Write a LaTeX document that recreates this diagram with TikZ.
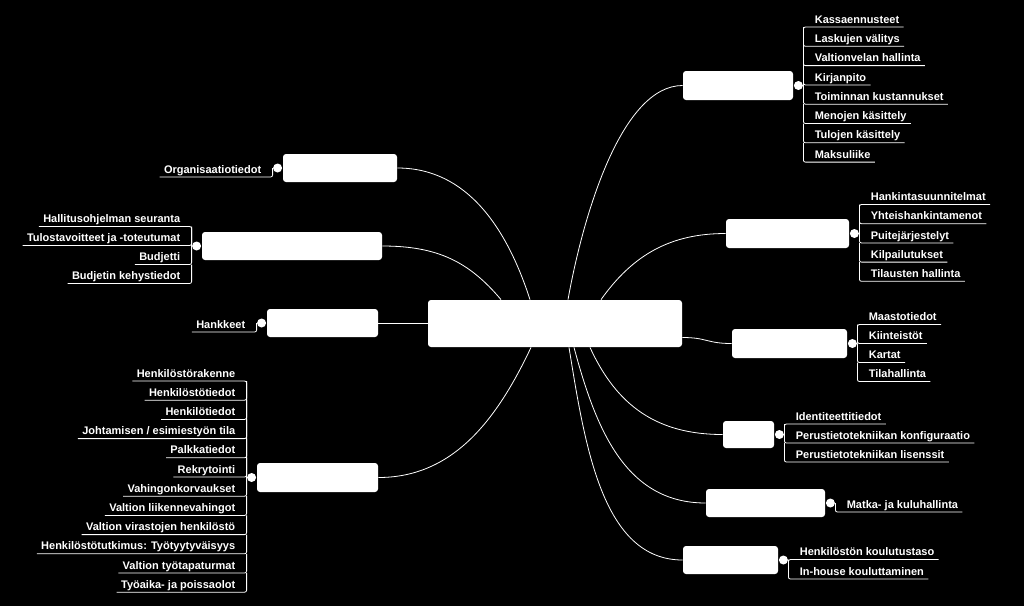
\documentclass[tikz,border=0pt]{standalone}
\usepackage{fontspec}
\setmainfont{Liberation Sans}

\begin{document}
\begin{tikzpicture}[x=1pt,y=-1pt,line width=0.8pt,draw=white!85]
\tikzstyle{box}=[fill=white,rounded corners=3pt,inner sep=0pt,minimum height=28pt]
\tikzstyle{dot}=[circle,fill=white,minimum size=9pt,inner sep=0pt]
\tikzstyle{leaf}=[text=white,font=\bfseries\fontsize{11}{13}\selectfont,inner xsep=4pt,inner ysep=1pt,text height=8pt,text depth=2.5pt]

\fill[black] (0,0) rectangle (1024,606);
\useasboundingbox (0,0) rectangle (1024,606);

% Draw the central node
\node[box,minimum width=254pt,minimum height=47pt] (root) at (555,323.5) {};

% Draw the branch nodes on the right
\node[box,minimum width=110pt,minimum height=29pt] (fin) at (738,85.5) {};
\node[box,minimum width=123pt,minimum height=29pt] (proc) at (787.5,233.5) {};
\node[box,minimum width=115pt,minimum height=29pt] (geo) at (789.5,343.5) {};
\node[box,minimum width=51pt,minimum height=27pt] (ict) at (748.5,434.5) {};
\node[box,minimum width=119pt] (trav) at (765.5,503) {};
\node[box,minimum width=95pt] (edu) at (730.5,560) {};

% Draw the branch nodes on the left
\node[box,minimum width=114pt] (org) at (340,168) {};
\node[box,minimum width=180pt] (bud) at (292,246) {};
\node[box,minimum width=111pt] (proj) at (322.5,323) {};
\node[box,minimum width=121pt,minimum height=29pt] (hr) at (317.5,477.5) {};

% Connect the central node with every branch
\draw (fin.west) .. controls +(-60,0) and +(16,-89) .. ([xshift=13pt]root.north);
\draw (proc.west) .. controls +(-55,0) and +(32,-45) .. ([xshift=46pt]root.north);
\draw (geo.west) .. controls +(-25,0) and +(25,0) .. ([yshift=-14pt]root.east);
\draw (ict.west) .. controls +(-65,0) and +(27,59) .. ([xshift=35pt]root.south);
\draw (trav.west) .. controls +(-80,0) and +(22,82) .. ([xshift=19pt]root.south);
\draw (edu.west) .. controls +(-80,0) and +(16,99) .. ([xshift=14pt]root.south);
\draw (org.east) .. controls +(70,0) and +(-23,-71) .. ([xshift=-25pt]root.north);
\draw (bud.east) .. controls +(55,0) and +(-32,-38) .. ([xshift=-54pt]root.north);
\draw (proj.east) -- (proj.east -| root.west);
\draw (hr.east) .. controls +(75,0) and +(-34,72) .. ([xshift=-24pt]root.south);

% Write the labels on the right
\foreach \br/\uy/\dy/\items in {
  fin/27/19.3/{Kassaennusteet,Laskujen välitys,Valtionvelan hallinta,Kirjanpito,Toiminnan kustannukset,Menojen käsittely,Tulojen käsittely,Maksuliike},
  proc/204.5/19.2/{Hankintasuunnitelmat,Yhteishankintamenot,Puitejärjestelyt,Kilpailutukset,Tilausten hallinta},
  geo/324.5/19/{Maastotiedot,Kiinteistöt,Kartat,Tilahallinta},
  ict/424/19/{Identiteettitiedot,Perustietotekniikan konfiguraatio,Perustietotekniikan lisenssit},
  trav/512/19/{Matka- ja kuluhallinta},
  edu/559.5/19.5/{Henkilöstön koulutustaso,In-house kouluttaminen}}
{
  \coordinate (\br-b) at ([xshift=10pt]\br.east);
  \foreach \txt [count=\i] in \items
  {
    \pgfmathsetmacro\yy{\uy+(\i-1)*\dy}
    \pgfmathtruncatemacro\j{\i-1}
    \coordinate (\br-\i-u) at (\br-b |- 0,\yy);
    \node[leaf,anchor=south west] (\br-\i) at ([xshift=7pt]\br-\i-u) {\txt};
    \ifnum\i=1 \def\prevpt{\br-b}\else \def\prevpt{\br-\j-u}\fi
    \draw[rounded corners=2pt] (\prevpt) -- (\br-\i-u) -- (\br-\i.south east);
  }
  \node[dot] (\br-dot) at ([xshift=5pt]\br.east) {};
}

% Write the labels on the left
\foreach \br/\uy/\dy/\items in {
  org/177/19/{Organisaatiotiedot},
  bud/226.5/19/{Hallitusohjelman seuranta,Tulostavoitteet ja -toteutumat,Budjetti,Budjetin kehystiedot},
  proj/332/19/{Hankkeet},
  hr/381/19.2/{Henkilöstörakenne,Henkilöstötiedot,Henkilötiedot,Johtamisen / esimiestyön tila,Palkkatiedot,Rekrytointi,Vahingonkorvaukset,Valtion liikennevahingot,Valtion virastojen henkilöstö,Henkilöstötutkimus: Työtyytyväisyys,Valtion työtapaturmat,Työaika- ja poissaolot}}
{
  \coordinate (\br-b) at ([xshift=-10pt]\br.west);
  \foreach \txt [count=\i] in \items
  {
    \pgfmathsetmacro\yy{\uy+(\i-1)*\dy}
    \pgfmathtruncatemacro\j{\i-1}
    \coordinate (\br-\i-u) at (\br-b |- 0,\yy);
    \node[leaf,anchor=south east] (\br-\i) at ([xshift=-7pt]\br-\i-u) {\txt};
    \ifnum\i=1 \def\prevpt{\br-b}\else \def\prevpt{\br-\j-u}\fi
    \draw[rounded corners=2pt] (\prevpt) -- (\br-\i-u) -- (\br-\i.south west);
  }
  \node[dot] (\br-dot) at ([xshift=-5pt]\br.west) {};
}

\end{tikzpicture}
\end{document}
